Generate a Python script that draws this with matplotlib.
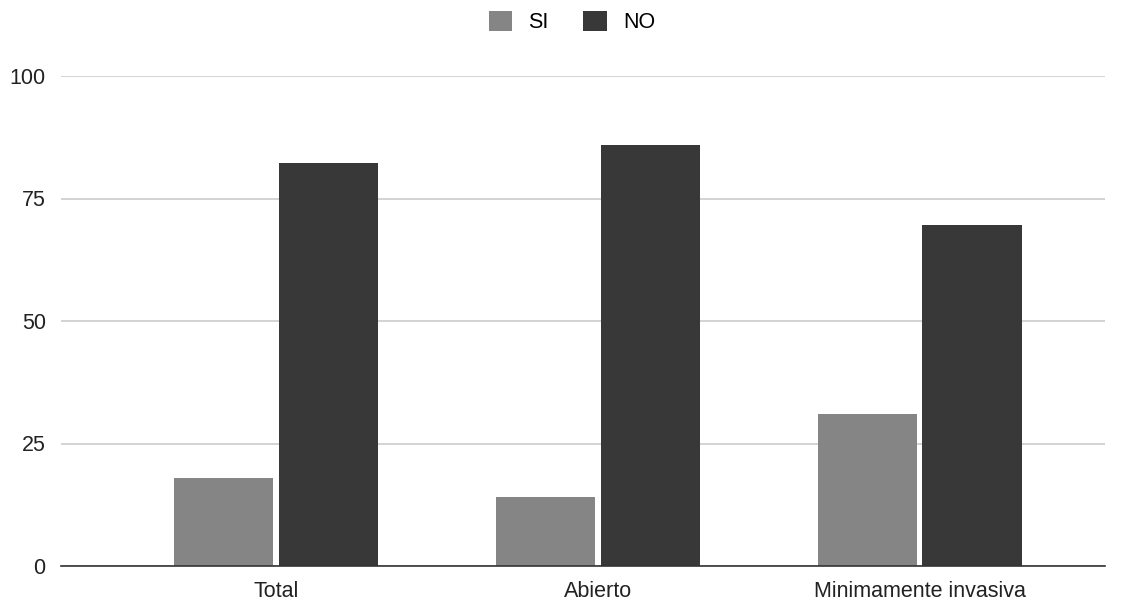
import matplotlib.pyplot as plt
import numpy as np

plt.rcParams['font.family'] = ['Liberation Sans', 'DejaVu Sans']

categories = ['Total', 'Abierto', 'Minimamente invasiva']
si = [17.9, 14.1, 31.0]
no = [82.2, 85.9, 69.5]
yticks = [0, 25, 50, 75, 100]

fig = plt.figure(figsize=(11.32, 6.05), dpi=100)
ax = fig.add_axes([61 / 1132, 1 - 566 / 605, (1105 - 61) / 1132, (566 - 76) / 605])

x = np.arange(len(categories))
w = 0.31
gap = 0.008
ax.bar(x - w / 2 - gap, si, w, color='#858585', label='SI', zorder=3)
ax.bar(x + w / 2 + gap, no, w, color='#383838', label='NO', zorder=3)

ax.set_xlim(-0.668, 2.575)
ax.set_ylim(0, 100)
ax.set_yticks(yticks)
ax.set_yticklabels([str(t) for t in yticks], fontsize=15.5, color='#222222')
ax.set_xticks(x)
ax.set_xticklabels(categories, fontsize=15.5, color='#222222')
ax.tick_params(axis='both', length=0)
ax.tick_params(axis='y', pad=11)
ax.tick_params(axis='x', pad=11)
ax.grid(axis='y', color='#cccccc', linewidth=1.2, zorder=0)
for s in ['top', 'right', 'left']:
    ax.spines[s].set_visible(False)
ax.spines['bottom'].set_color('#333333')
ax.spines['bottom'].set_linewidth(1.2)
ax.spines['bottom'].set_zorder(4)

fig.legend(loc='center', bbox_to_anchor=(572 / 1132, 1 - 22 / 605), ncol=2, frameon=False,
           fontsize=15.5, handlelength=1.1, handleheight=1.05, columnspacing=1.6,
           handletextpad=0.75)

fig.savefig('out.png', dpi=100)
